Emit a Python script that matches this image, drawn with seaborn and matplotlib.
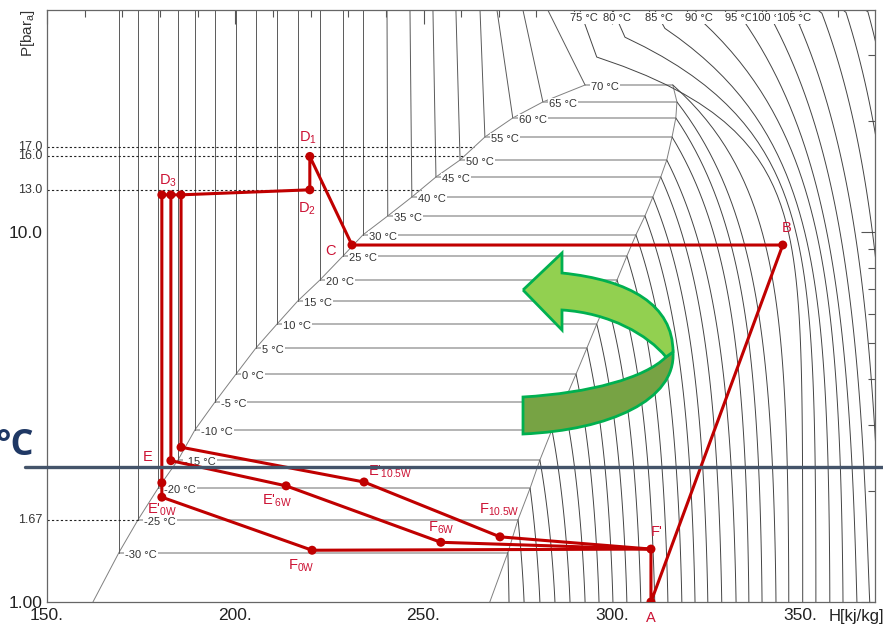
import numpy as np
import pandas as pd
import matplotlib
matplotlib.use("Agg")
import matplotlib.pyplot as plt
import seaborn as sns
from matplotlib.path import Path
from matplotlib.patches import PathPatch
from matplotlib.lines import Line2D
from matplotlib.ticker import FixedLocator, NullFormatter

# ---------------------------------------------------------------
# isotherm grid (H in kJ/kg, P in bar)
# ---------------------------------------------------------------
t_sat = [-30, -25, -20, -15, -10, -5, 0, 5, 10, 15, 20, 25, 30, 35, 40, 45, 50, 55, 60, 65, 70]
p_sat = [1.36, 1.67, 2.03, 2.42, 2.92, 3.47, 4.13, 4.86, 5.64, 6.51, 7.42, 8.61, 9.82,
         11.05, 12.43, 14.08, 15.65, 18.06, 20.33, 22.46, 24.96]
h_liq = [169.1, 174.2, 179.5, 184.8, 189.3, 194.6, 200.2, 205.5, 211.1, 216.6, 222.5,
         228.6, 233.9, 240.5, 246.9, 253.3, 259.7, 266.3, 273.7, 281.7, 292.9]
h_liq_top = [169.1, 174.2, 179.5, 184.8, 189.3, 194.6, 200.2, 205.5, 211.1, 216.6, 222.5,
             228.6, 233.9, 240.3, 246.4, 252.5, 258.6, 265.0, 269.5, 276.4, 283.0]
h_vap = [272.4, 275.1, 278.3, 280.9, 284.1, 287.3, 290.5, 293.4, 296.0, 298.7, 301.4,
         304.0, 306.4, 308.8, 310.9, 313.0, 314.6, 316.0, 317.0, 317.3, 316.2]
h_vap_1bar = [272.7, 276.7, 280.9, 284.9, 288.9, 292.9, 296.6, 300.3, 304.0, 307.7, 311.4,
              314.9, 318.6, 322.1, 325.5, 329.2, 333.0, 336.4, 339.9, 343.6, 347.0]
bend_sat = [1.1] * 17 + [1.2, 1.2, 1.2, 1.5]

# hot isotherms entering from the top of the chart
t_hot = [75, 80, 85, 90, 95, 100, 105, 110, 115, 120]
h_hot_top = [291.5, 300.3, 311.4, 322.1, 332.7, 340.7, 347.3, 354.7, 361.4, 367.2]
h_hot_knee = [296.0, 303.5, 314.1, 324.2, 334.5, 342.0, 348.6, 355.8, 362.2, 368.0]
p_hot_knee = [29.7, 33.6, 35.5, 36.9, 37.9, 38.4, 38.7, 39.0, 39.2, 39.4]
h_hot_1bar = [350.7, 354.2, 357.9, 361.4, 365.1, 368.5, 372.0, 375.4, 378.9, 382.3]
bend_hot = [2.3, 1.75, 1.4, 1.2, 0.95, 0.85, 0.8, 0.8, 0.8, 0.8]

h_dome_liq_1bar = 162.2
h_dome_vap_1bar = 267.6

# marked pressure levels
p_ref = [1.67, 13.0, 16.0, 17.0]
p_ref_txt = ["1.67", "13.0", "16.0", "17.0"]

# ---------------------------------------------------------------
# refrigeration cycle state points
# ---------------------------------------------------------------
pt_name = ["A", "F'", "B", "C", "D1", "D2", "D3a", "D3b", "D3c",
           "E0", "E'0W", "E", "E10", "E'6W", "F6W", "E'10.5W", "F10.5W", "F0W"]
pt_h = [310.4, 310.4, 345.4, 231.0, 219.8, 219.8, 180.5, 182.9, 185.6,
        180.5, 180.5, 182.9, 185.6, 213.5, 254.6, 234.2, 270.3, 220.4]
pt_p = [1.00, 1.39, 9.22, 9.22, 16.0, 13.0, 12.6, 12.6, 12.6,
        2.10, 1.92, 2.41, 2.62, 2.06, 1.45, 2.11, 1.50, 1.38]
paths = [
    ["F'", "A", "B", "C", "D1", "D2", "D3c", "D3b", "D3a"],
    ["D3a", "E0", "E'0W", "F0W", "F'"],
    ["D3b", "E", "E'6W", "F6W", "F'"],
    ["D3c", "E10", "E'10.5W", "F10.5W", "F'"],
]
# label text and offset (pixels) from its point
pt_labels = [
    ("A", "A", 0, -16), ("B", "B", 4, 17), ("C", "C", -21, -6),
    ("D1", "D$_1$", -2, 19), ("D2", "D$_2$", -3, -19), ("D3b", "D$_3$", -3, 14),
    ("E", "E", -23, 4), ("E'0W", "E'$_{0W}$", 0, -13), ("E'6W", "E'$_{6W}$", -9, -15),
    ("E'10.5W", "E'$_{10.5W}$", 26, 10), ("F0W", "F$_{0W}$", -11, -16),
    ("F6W", "F$_{6W}$", 0, 14), ("F10.5W", "F$_{10.5W}$", -1, 27), ("F'", "F'", 6, 17),
]

H_MIN, H_MAX = 150, 369.9
P_MIN, P_MAX = 1.0, 39.8

sns.set_theme(style="white")
plt.rcParams["font.family"] = ["Liberation Sans", "DejaVu Sans"]
plt.rcParams["mathtext.fontset"] = "custom"
plt.rcParams["mathtext.rm"] = "Liberation Sans"
plt.rcParams["mathtext.default"] = "regular"

W, H = 883, 627
fig = plt.figure(figsize=(W / 100, H / 100), dpi=100)
ax = fig.add_axes([47 / W, 25 / H, 828 / W, 592 / H])
ax.set_yscale("log")
ax.set_xlim(H_MIN, H_MAX)
ax.set_ylim(P_MIN, P_MAX)

# --- saturation dome
ax.plot([h_dome_liq_1bar] + h_liq, [1.0] + p_sat, color="#808080", lw=0.7, zorder=1)
ax.plot([h_dome_vap_1bar] + h_vap, [1.0] + p_sat, color="#808080", lw=0.7, zorder=1)

# --- two-phase isotherms
ax.hlines(p_sat, h_liq, h_vap, color="#a0a0a0", lw=1.1, zorder=1)

# --- liquid isotherms
liq_rows = []
for t, ps, hl, ht in zip(t_sat, p_sat, h_liq, h_liq_top):
    liq_rows.append(pd.DataFrame({"T": t, "h": [ht, hl], "p": [P_MAX, ps]}))
liq = pd.concat(liq_rows, ignore_index=True)
sns.lineplot(data=liq, x="h", y="p", units="T", estimator=None, sort=False,
             color="#5a5a5a", lw=0.7, ax=ax, legend=False, zorder=1)

# --- vapour isotherms
vap_rows = []
for t, ps, hv, hb, m in zip(t_sat, p_sat, h_vap, h_vap_1bar, bend_sat):
    p = np.geomspace(1.0, ps, 60)
    h = hb - (hb - hv) * ((p - 1) / (ps - 1)) ** m
    vap_rows.append(pd.DataFrame({"T": t, "h": h, "p": p}))
for t, ht, hk, pk, hb, m in zip(t_hot, h_hot_top, h_hot_knee, p_hot_knee, h_hot_1bar, bend_hot):
    p = np.geomspace(1.0, pk, 60)
    h = hb - (hb - hk) * ((p - 1) / (pk - 1)) ** m
    vap_rows.append(pd.DataFrame({"T": t, "h": np.r_[h, ht], "p": np.r_[p, P_MAX]}))
vap = pd.concat(vap_rows, ignore_index=True)
sns.lineplot(data=vap, x="h", y="p", units="T", estimator=None, sort=False,
             color="#444444", lw=0.7, ax=ax, legend=False, zorder=1)

# --- isotherm labels
box = dict(boxstyle="square,pad=0.08", fc="white", ec="none")
for t, ps, hl in zip(t_sat, p_sat, h_liq):
    ax.annotate(f"{t} °C", (hl, ps), xytext=(6, -2), textcoords="offset pixels",
                ha="left", va="center", fontsize=8, color="#333333", bbox=box, zorder=3)
for t, ht in zip(t_hot[:7], h_hot_top[:7]):
    ax.annotate(f"{t} °C", (ht, P_MAX), xytext=(4, -8), textcoords="offset pixels",
                ha="center", va="center", fontsize=8, color="#333333", bbox=box,
                zorder=6, annotation_clip=False)

# --- marked pressure levels
h_ref_end = np.interp(np.log(p_ref), np.log(p_sat), h_liq)
for p, he, txt in zip(p_ref, h_ref_end, p_ref_txt):
    ax.plot([H_MIN, he], [p, p], color="#222222", lw=0.8, ls=(0, (2, 2)), zorder=1.5)
    ax.annotate(txt, (H_MIN, p), xytext=(-5, 0), textcoords="offset pixels",
                ha="right", va="center", fontsize=9, color="#333333", annotation_clip=False)

# --- cycle
pts = pd.DataFrame({"name": pt_name, "h": pt_h, "p": pt_p}).set_index("name")
seg = pd.concat([pts.loc[path].reset_index().assign(seg=i) for i, path in enumerate(paths)],
                ignore_index=True)
red = "#c00000"
sns.lineplot(data=seg, x="h", y="p", units="seg", estimator=None, sort=False,
             color=red, lw=2.2, ax=ax, legend=False, zorder=4)
sns.scatterplot(data=pts.reset_index(), x="h", y="p", color=red, s=42, ax=ax,
                edgecolor="none", zorder=5, legend=False)
for key, txt, dx, dy in pt_labels:
    ax.annotate(txt, (pts.loc[key, "h"], pts.loc[key, "p"]), xytext=(dx, dy),
                textcoords="offset pixels", ha="center", va="center",
                fontsize=10.5, color="#cc1133", zorder=6, annotation_clip=False)

# --- frame and ticks
ax.set_xticks(np.arange(150, 351, 50))
ax.set_xticklabels([f"{v}." for v in range(150, 351, 50)])
ax.xaxis.set_minor_locator(FixedLocator(np.arange(160, 370, 10)))
ax.set_yticks([1, 10])
ax.set_yticklabels(["1.00", "10.0"])
ax.yaxis.set_minor_locator(FixedLocator([2, 3, 4, 5, 6, 7, 8, 9, 20, 30]))
ax.yaxis.set_minor_formatter(NullFormatter())
ax.tick_params(which="both", direction="in", top=True, right=True, color="#555555",
               width=0.8, labelsize=12.5, labelcolor="#222222")
ax.tick_params(which="major", length=10)
ax.tick_params(which="minor", length=5)
ax.tick_params(axis="x", pad=4)
ax.tick_params(axis="y", pad=3)
for s in ax.spines.values():
    s.set_color("#666666")
    s.set_linewidth(0.9)
ax.set_xlabel("")
ax.set_ylabel("")

fig.text(28 / W, 1 - 33 / H, "P[bar$_a$]", rotation=90, ha="center", va="center",
         fontsize=11, color="#333333")
fig.text(856 / W, 1 - 617 / H, "H[kj/kg]", ha="center", va="center",
         fontsize=12, color="#222222")

# --- green U-turn arrow (drawn in figure pixels)
def to_fig(pts_px):
    return [(x / W, 1 - y / H) for x, y in pts_px]

C4, L, M = Path.CURVE4, Path.LINETO, Path.MOVETO
dark_px = [(666, 357), (673, 352), (676, 400), (610, 430), (523, 434),
           (523, 397), (590, 393), (645, 378), (666, 357)]
dark_codes = [M, L, C4, C4, C4, L, C4, C4, C4]
light_px = [(523, 290), (562, 253), (562, 273), (630, 280), (673, 305), (673, 352),
            (666, 357), (648, 335), (610, 313), (562, 310), (562, 330), (523, 290)]
light_codes = [M, L, L, C4, C4, C4, L, C4, C4, C4, L, L]
for verts, codes, fc in [(dark_px, dark_codes, "#77a344"), (light_px, light_codes, "#92d050")]:
    patch = PathPatch(Path(to_fig(verts), codes), transform=fig.transFigure,
                      fc=fc, ec="#00b050", lw=2, zorder=5)
    fig.add_artist(patch)

# --- overlay line and cut-off label
fig.add_artist(Line2D([25 / W, 1.0], [1 - 467 / H, 1 - 467 / H], transform=fig.transFigure,
                      color="#44546a", lw=2.4, zorder=6))
fig.text(34 / W, 1 - 446 / H, "°C", ha="right", va="center", fontsize=26,
         fontweight="bold", family="Open Sans", color="#1f3864", zorder=6)

fig.savefig("out.png", dpi=100)
